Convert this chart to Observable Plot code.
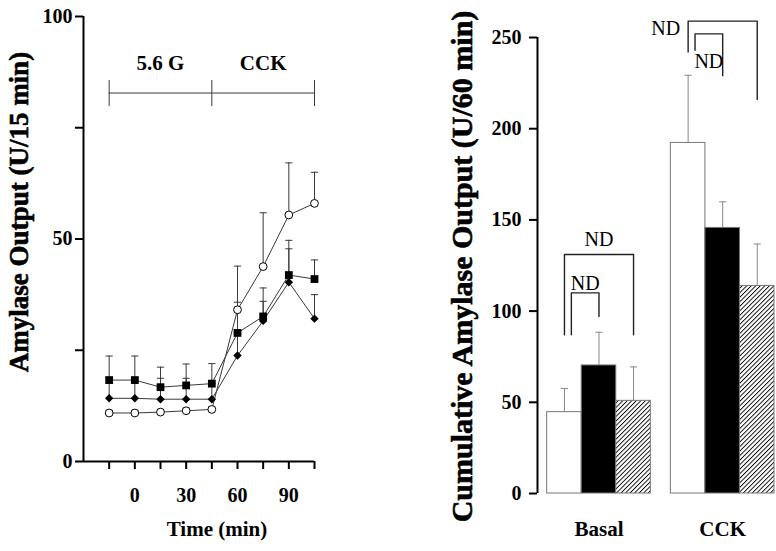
<!DOCTYPE html>
<html><head><meta charset="utf-8">
<script src="https://cdn.jsdelivr.net/npm/d3@7"></script>
<script src="https://cdn.jsdelivr.net/npm/@observablehq/plot@0.6"></script>
<style>
html,body{margin:0;padding:0;background:#fff;}
#wrap{position:relative;width:776px;height:551px;overflow:hidden;background:#fff;}
#left{position:absolute;left:0;top:0;}
#right{position:absolute;left:430px;top:0;}
</style></head>
<body><div id="wrap"><div id="left"></div><div id="right"></div></div>
<script>
// ---------- Left panel data (time course) ----------
const times = [-15, 0, 15, 30, 45, 60, 75, 90, 105];
const seriesNames = ["Control", "Treatment 1", "Treatment 2"];
const controlValues = [10.9, 10.9, 11.1, 11.4, 11.7, 34.1, 43.8, 55.4, 58.0];
const controlErrors = [0.6, 0.6, 0.6, 0.6, 0.6, 9.8, 12.1, 11.7, 7.0];
const treat1Values = [18.3, 18.3, 16.7, 17.1, 17.5, 28.9, 32.6, 41.9, 41.0];
const treat1Errors = [5.4, 5.4, 4.5, 4.8, 4.5, 6.9, 6.4, 7.8, 4.3];
const treat2Values = [14.2, 14.2, 14.0, 14.0, 14.0, 23.8, 31.6, 40.3, 32.1];
const treat2Errors = [4.5, 4.5, 4.7, 4.7, 3.5, 5.0, 4.4, 7.5, 5.4];

const xTickValues = [-15, 0, 15, 30, 45, 60, 75, 90, 105];
const xTickLabels = ["", "0", "", "30", "", "60", "", "90", ""];
const yTickValuesL = [0, 25, 50, 75, 100];
const yTickLabelsL = ["0", "", "50", "", "100"];
const xDomainL = [-30, 105];
const yDomainL = [0, 100];

const phaseBounds = [-15, 45, 105];
const phaseLabels = ["5.6 G", "CCK"];
const phaseLabelTimes = [15, 75];
const phaseLevel = 82.8;
const phaseLabelLevel = 89.4;

const leftTitle = "Amylase Output (U/15 min)";
const leftXTitle = "Time (min)";

// ---------- Right panel data (cumulative) ----------
const groups = ["Basal", "CCK"];
const conds = ["Control", "Treatment 1", "Treatment 2"];
const basalMeans = [44.6, 70.2, 50.8];
const basalErrors = [13.0, 18.2, 18.6];
const cckMeans = [192.2, 145.6, 113.8];
const cckErrors = [37.1, 14.3, 23.0];
const yTickValuesR = [0, 50, 100, 150, 200, 250];
const yDomainR = [0, 250];

const bracketGroup = ["Basal", "Basal", "CCK", "CCK"];
const bracketFrom = ["Control", "Control", "Control", "Control"];
const bracketTo = ["Treatment 2", "Treatment 1", "Treatment 2", "Treatment 1"];
const bracketTop = [131, 110, 259, 252];
const bracketFromBottom = [87, 87, 242, 243];
const bracketToBottom = [87, 97, 216, 229];
const bracketText = ["ND", "ND", "ND", "ND"];
const bracketTextY = [139, 115, 255, 237];
const bracketTextSide = ["above", "above", "left", "below"];

const rightTitle = "Cumulative Amylase Output (U/60 min)";

// ---------- Helpers ----------
const FONT = "'Liberation Serif', 'Times New Roman', serif";
const hCap = {draw(ctx, size) { const r = Math.sqrt(size / Math.PI); ctx.moveTo(-r, 0); ctx.lineTo(r, 0); }};
const vTick = {draw(ctx, size) { const r = Math.sqrt(size / Math.PI); ctx.moveTo(0, -r); ctx.lineTo(0, r); }};

// ---------- Left plot ----------
const valuesBySeries = [controlValues, treat1Values, treat2Values];
const errorsBySeries = [controlErrors, treat1Errors, treat2Errors];
const rows = [];
seriesNames.forEach((s, si) => times.forEach((t, i) => rows.push({series: s, time: t, value: valuesBySeries[si][i], err: errorsBySeries[si][i]})));

const lineColor = "#3a3a3a";
const left = Plot.plot({
  width: 430, height: 551,
  marginLeft: 83, marginRight: 116, marginTop: 16, marginBottom: 90,
  x: {domain: xDomainL, axis: null},
  y: {domain: yDomainL, axis: null},
  style: {fontFamily: FONT, fontWeight: "bold", fontSize: "20px", color: "black", background: "white", overflow: "visible"},
  marks: [
    Plot.ruleX(rows, {x: "time", y1: "value", y2: d => d.value + d.err, stroke: lineColor, strokeWidth: 1}),
    Plot.dot(rows, {x: "time", y: d => d.value + d.err, symbol: hCap, r: 3.6, stroke: lineColor, fill: "none", strokeWidth: 1}),
    Plot.line(rows, {x: "time", y: "value", z: "series", stroke: lineColor, strokeWidth: 1}),
    Plot.dot(rows.filter(d => d.series === seriesNames[0]), {x: "time", y: "value", r: 3.9, fill: "white", stroke: "black", strokeWidth: 1}),
    Plot.dot(rows.filter(d => d.series === seriesNames[1]), {x: "time", y: "value", symbol: "square", r: 4.4, fill: "black", stroke: "none"}),
    Plot.dot(rows.filter(d => d.series === seriesNames[2]), {x: "time", y: "value", symbol: "diamond2", r: 3.8, fill: "black", stroke: "none"}),
    // phase annotation
    Plot.ruleY([phaseLevel], {x1: phaseBounds[0], x2: phaseBounds[phaseBounds.length - 1], stroke: lineColor, strokeWidth: 1}),
    Plot.dot(phaseBounds, {x: d => d, y: () => phaseLevel, symbol: vTick, r: 13, stroke: lineColor, strokeWidth: 1, fill: "none"}),
    Plot.text(phaseLabels, {x: (d, i) => phaseLabelTimes[i], y: () => phaseLabelLevel, text: d => d, fontSize: 21, fontWeight: "bold"}),
    // axes
    Plot.ruleX([xDomainL[0]], {stroke: "black", strokeWidth: 2}),
    Plot.ruleY([yDomainL[0]], {stroke: "black", strokeWidth: 2}),
    Plot.axisY({ticks: yTickValuesL, tickFormat: d => yTickLabelsL[yTickValuesL.indexOf(d)], tickSize: 8, tickPadding: 3, strokeWidth: 2, fontSize: 20, label: null}),
    Plot.axisX({ticks: xTickValues, tickFormat: d => xTickLabels[xTickValues.indexOf(d)], tickSize: 8, tickPadding: 18, strokeWidth: 2, fontSize: 20, label: null}),
    Plot.text([leftTitle], {frameAnchor: "left", text: d => d, rotate: -90, textAnchor: "middle", lineAnchor: "bottom", dx: -56, dy: -27, fontSize: 27, fontWeight: "bold", fill: "black", stroke: "black", strokeWidth: 0.6, strokeOpacity: 1}),
    Plot.text([leftXTitle], {frameAnchor: "bottom", text: d => d, dx: 18, dy: 74, fontSize: 21, fontWeight: "bold"})
  ]
});
document.getElementById("left").appendChild(left);

// ---------- Right plot ----------
const groupGap = 0.58;
const slotOf = (g, c) => groups.indexOf(g) * (conds.length + groupGap) + conds.indexOf(c);
const meansByGroup = [basalMeans, cckMeans];
const errorsByGroup = [basalErrors, cckErrors];
const barRows = [];
groups.forEach((g, gi) => conds.forEach((c, ci) => barRows.push({group: g, cond: c, slot: slotOf(g, c), value: meansByGroup[gi][ci], err: errorsByGroup[gi][ci]})));
const xDomainR = [-0.28, slotOf(groups[groups.length - 1], conds[conds.length - 1]) + 1];
const groupCenters = groups.map(g => slotOf(g, conds[0]) + conds.length / 2);

const brackets = bracketGroup.map((g, i) => {
  const inner = bracketGroup.some((g2, j) => j !== i && g2 === g && bracketTop[j] > bracketTop[i]);
  const L = slotOf(g, bracketFrom[i]) + 0.5 + (inner ? 0.2 : 0);
  const R = slotOf(g, bracketTo[i]) + 0.5;
  return {id: i, L, R, top: bracketTop[i], lb: bracketFromBottom[i], rb: bracketToBottom[i], text: bracketText[i], ty: bracketTextY[i], side: bracketTextSide[i]};
});
const bracketPts = brackets.flatMap(b => [
  {id: b.id, x: b.L, y: b.lb}, {id: b.id, x: b.L, y: b.top}, {id: b.id, x: b.R, y: b.top}, {id: b.id, x: b.R, y: b.rb}
]);

const errColor = "#888";
const right = Plot.plot({
  width: 346, height: 551,
  marginLeft: 107, marginRight: 2, marginTop: 37, marginBottom: 58,
  x: {domain: xDomainR, axis: null},
  y: {domain: yDomainR, axis: null},
  color: {domain: conds, range: ["white", "black", "url(#hatch)"]},
  style: {fontFamily: FONT, fontWeight: "bold", fontSize: "20px", color: "black", background: "white", overflow: "visible"},
  marks: [
    Plot.ruleX(barRows, {x: d => d.slot + 0.5, y1: "value", y2: d => d.value + d.err, stroke: errColor, strokeWidth: 1}),
    Plot.dot(barRows, {x: d => d.slot + 0.5, y: d => d.value + d.err, symbol: hCap, r: 3.6, stroke: errColor, fill: "none", strokeWidth: 1}),
    Plot.rectY(barRows, {x1: "slot", x2: d => d.slot + 1, y: "value", fill: "cond", stroke: "#777", strokeWidth: 1}),
    Plot.line(bracketPts, {x: "x", y: "y", z: "id", stroke: "#222", strokeWidth: 1.4}),
    Plot.text(brackets.filter(b => b.side !== "left"), {x: b => (b.L + b.R) / 2, y: "ty", text: "text", fontSize: 20, fontWeight: "normal"}),
    Plot.text(brackets.filter(b => b.side === "left"), {x: "L", y: "ty", text: "text", textAnchor: "end", dx: -8, fontSize: 20, fontWeight: "normal"}),
    Plot.ruleX([xDomainR[0]], {y1: yDomainR[0], y2: yDomainR[1], stroke: "black", strokeWidth: 2}),
    Plot.axisY({ticks: yTickValuesR, tickSize: 8, tickPadding: 8, strokeWidth: 2, fontSize: 20, label: null}),
    Plot.axisX({ticks: groupCenters, tickFormat: d => groups[groupCenters.indexOf(d)], tickSize: 0, tickPadding: 28, fontSize: 21, label: null}),
    Plot.text([rightTitle], {frameAnchor: "left", text: d => d, rotate: -90, textAnchor: "middle", lineAnchor: "bottom", dx: -66, dy: 1, fontSize: 30, fontWeight: "bold", fill: "black", stroke: "black", strokeWidth: 0.6, strokeOpacity: 1})
  ]
});
const defs = d3.select(right).insert("defs", ":first-child");
const pat = defs.append("pattern").attr("id", "hatch").attr("patternUnits", "userSpaceOnUse")
  .attr("width", 3.2).attr("height", 3.2).attr("patternTransform", "rotate(45)");
pat.append("rect").attr("width", 3.2).attr("height", 3.2).attr("fill", "white");
pat.append("line").attr("x1", 0).attr("y1", 0).attr("x2", 0).attr("y2", 3.2).attr("stroke", "black").attr("stroke-width", 1.8);
document.getElementById("right").appendChild(right);
</script>
</body></html>
